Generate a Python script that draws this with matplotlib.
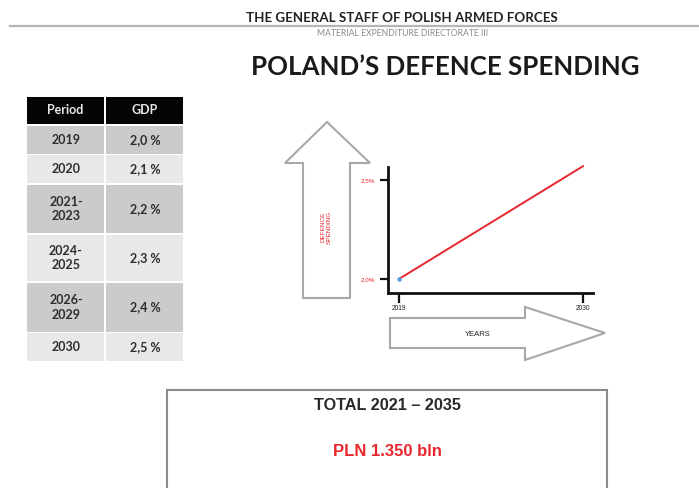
import matplotlib
matplotlib.use("Agg")
import matplotlib.pyplot as plt
from matplotlib.patches import Rectangle, Polygon

# ---- data ----
periods = ["2019", "2020", "2021-\n2023", "2024-\n2025", "2026-\n2029", "2030"]
gdp_share = ["2,0 %", "2,1 %", "2,2 %", "2,3 %", "2,4 %", "2,5 %"]
table_header = ["Period", "GDP"]

line_years = [2019, 2030]
line_values = [2.0, 2.57]
y_ticks = [2.0, 2.5]
y_tick_labels = ["2,0%", "2,5%"]
x_ticks = [2019, 2030]
x_tick_labels = ["2019", "2030"]

total_label = "TOTAL 2021 \u2013 2035"
total_value = "PLN 1.350 bln"

RED = "#e8262d"
W, H = 699, 488

fig = plt.figure(figsize=(W / 100, H / 100), dpi=100)
bg = fig.add_axes([0, 0, 1, 1])
bg.set_xlim(0, W)
bg.set_ylim(H, 0)
bg.axis("off")

# ---- header ----
bg.text(402, 18, "THE GENERAL STAFF OF POLISH ARMED FORCES", ha="center", va="center",
        fontsize=9.6, fontweight="bold", family="Lato", color="#222222")
bg.plot([10, W], [26, 26], color="#b5b5b5", lw=1.6)
bg.text(403, 34, "MATERIAL EXPENDITURE DIRECTORATE III", ha="center", va="center",
        fontsize=6.2, family="Lato", color="#8a8a8a")
bg.text(445, 67, "POLAND\u2019S DEFENCE SPENDING", ha="center", va="center",
        fontsize=18.6, fontweight="bold", family="Lato", color="#1a1a1a")

# ---- table ----
row_bounds = [(126, 154), (155, 183), (185, 233), (235, 281), (283, 332), (333, 361)]
col_x = [(27, 104), (106, 183)]
for (x0, x1), lab in zip(col_x, table_header):
    bg.add_patch(Rectangle((x0, 97), x1 - x0, 27, facecolor="#050505", edgecolor="none"))
    bg.text((x0 + x1) / 2, 110.5, lab, ha="center", va="center", fontsize=9,
            fontweight="bold", family="Lato", color="#e8e8e8")
for i, ((y0, y1), per, g) in enumerate(zip(row_bounds, periods, gdp_share)):
    col = "#cbcbcb" if i % 2 == 0 else "#e8e8e8"
    for (x0, x1) in col_x:
        bg.add_patch(Rectangle((x0, y0), x1 - x0, y1 - y0, facecolor=col, edgecolor="none"))
    yc = (y0 + y1) / 2
    bg.text(66, yc, per, ha="center", va="center", fontsize=9, fontweight="bold",
            family="Lato", color="#2e2e2e", linespacing=1.25)
    bg.text(145, yc, g, ha="center", va="center", fontsize=9, fontweight="bold",
            family="Lato", color="#2e2e2e")

# ---- arrows ----
up = Polygon([(303, 298), (303, 163), (285, 163), (327, 122), (370, 163), (350, 163), (350, 298)],
             closed=True, facecolor="white", edgecolor="#a8a8a8", lw=1.5)
bg.add_patch(up)
bg.text(326, 227, "DEFENCE\nSPENDING", rotation=90, ha="center", va="center",
        fontsize=4.6, family="Liberation Sans", color=RED, linespacing=1.4)
right = Polygon([(390, 318), (525, 318), (525, 307), (605, 333), (525, 360), (525, 348), (390, 348)],
                closed=True, facecolor="white", edgecolor="#a8a8a8", lw=1.5)
bg.add_patch(right)
bg.text(478, 335, "YEARS", ha="center", va="center", fontsize=5.5,
        family="Liberation Sans", color="#222222")

# ---- bottom box ----
bg.add_patch(Rectangle((167, 390), 440, 110, facecolor="white", edgecolor="#8a8a8a", lw=1.5,
                       clip_on=False))
bg.text(387, 406, total_label, ha="center", va="center", fontsize=11.7, fontweight="bold",
        family="Liberation Sans", color="#2a2a2a")
bg.text(387, 452, total_value, ha="center", va="center", fontsize=12, fontweight="bold",
        family="Liberation Sans", color=RED)

# ---- chart ----
ax = fig.add_axes([388 / W, (H - 293) / H, 205 / W, 126 / H])
ax.patch.set_alpha(0)
ax.set_xlim(2018.34, 2030.6)
ax.set_ylim(1.929, 2.566)
ax.plot(line_years, line_values, color=RED, lw=1.4, clip_on=False, zorder=3)
ax.plot(line_years[:1], line_values[:1], "o", color="#5b9bd5", ms=2.2, zorder=4, clip_on=False)
for s in ["top", "right"]:
    ax.spines[s].set_visible(False)
for s in ["left", "bottom"]:
    ax.spines[s].set_linewidth(2.0)
    ax.spines[s].set_color("#111111")
ax.set_xticks(x_ticks)
ax.set_xticklabels(x_tick_labels, fontsize=4.8, family="Liberation Sans", color="#222222")
ax.set_yticks(y_ticks)
ax.set_yticklabels(y_tick_labels, fontsize=4.5, family="Liberation Sans", color=RED)
ax.tick_params(axis="x", length=7, width=1.6, color="#111111", pad=1.5)
ax.tick_params(axis="y", length=6, width=1.6, color="#111111", pad=3)

fig.savefig("out.png", dpi=100)
